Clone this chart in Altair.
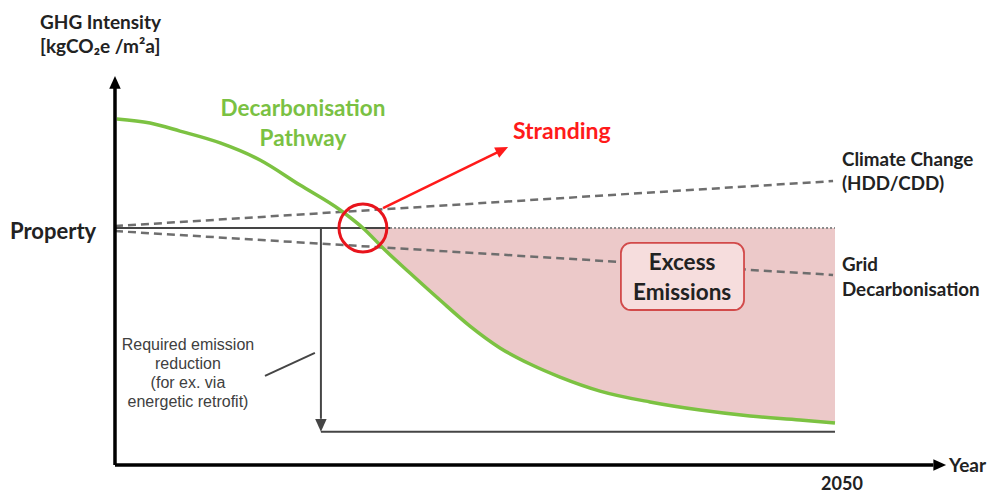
import altair as alt
import pandas as pd

# ---- scale frame (year on x, GHG intensity index on y) ----
X_DOMAIN = [2015.542, 2056.417]
Y_DOMAIN = [-11.814, 192.827]

# ---- decarbonisation pathway ----
curve_year = [2020.08, 2021.46, 2022.71, 2024.38, 2026.04, 2027.71, 2029.38, 2030.33,
              2031.25, 2032.29, 2033.54, 2034.79, 2036.04, 2037.29, 2038.54, 2040.21,
              2042.29, 2044.38, 2046.46, 2048.54, 2050.0]
curve_val = [146.0, 144.3, 140.9, 135.9, 128.7, 118.1, 107.6, 100.0,
             90.7, 81.0, 69.6, 58.6, 49.4, 42.6, 37.1, 31.2,
             26.6, 23.2, 20.7, 19.0, 17.7]

property_level = 100.0
target_level = 14.0
retrofit_year = 2028.58
stranding_year = 2030.33
end_year = 2050.0

climate_year = [2020.0, 2049.92]
climate_val = [100.8, 119.8]
grid_year = [2020.0, 2049.92]
grid_val = [98.7, 80.2]

xs = alt.Scale(domain=X_DOMAIN, nice=False, zero=False)
ys = alt.Scale(domain=Y_DOMAIN, nice=False, zero=False)


def X(f="x"):
    return alt.X(f + ":Q", scale=xs, axis=None)


def Y(f="y"):
    return alt.Y(f + ":Q", scale=ys, axis=None)


curve_df = pd.DataFrame({"x": curve_year, "y": curve_val})
area_df = curve_df[curve_df["x"] >= stranding_year].copy()
area_df["base"] = property_level

area = alt.Chart(area_df).mark_area(color="#ecc9c9", interpolate="monotone").encode(
    x=X(), y=Y(), y2=alt.Y2("base:Q"))

curve = alt.Chart(curve_df).mark_line(color="#7cc242", strokeWidth=3.5,
                                      interpolate="monotone").encode(x=X(), y=Y())

# segments
def seg(rows):
    return pd.DataFrame(rows, columns=["x", "y", "x2", "y2"])

dotted = alt.Chart(seg([[2031.46, property_level, end_year, property_level]])).mark_rule(
    color="#8a8a8a", strokeWidth=2, strokeDash=[2, 2]).encode(
    x=X(), y=Y(), x2="x2:Q", y2="y2:Q")

dashed = alt.Chart(seg([[climate_year[0], climate_val[0], climate_year[1], climate_val[1]],
                        [grid_year[0], grid_val[0], grid_year[1], grid_val[1]]])).mark_rule(
    color="#6e6e6e", strokeWidth=2.5, strokeDash=[8, 5]).encode(
    x=X(), y=Y(), x2="x2:Q", y2="y2:Q")

dark = alt.Chart(seg([[2020.0, property_level, 2031.46, property_level],
                      [retrofit_year, property_level, retrofit_year, target_level + 5.5],
                      [retrofit_year, target_level, end_year, target_level],
                      [2026.25, 37.6, 2028.33, 47.3]])).mark_rule(
    color="#454545", strokeWidth=2).encode(x=X(), y=Y(), x2="x2:Q", y2="y2:Q")

axes = alt.Chart(seg([[2020.0, 0, 2020.0, 159.5],
                      [2020.0, 0, 2054.1, 0]])).mark_rule(
    color="#000000", strokeWidth=3.5).encode(x=X(), y=Y(), x2="x2:Q", y2="y2:Q")

red_arrow = alt.Chart(seg([[2031.17, 108.4, 2035.93, 131.9]])).mark_rule(
    color="#ff1a1a", strokeWidth=2.5).encode(x=X(), y=Y(), x2="x2:Q", y2="y2:Q")

ARROW = "M0,0L-0.45,1L0.45,1Z"
heads_df = pd.DataFrame({
    "x": [2020.0, 2054.63, retrofit_year, 2036.38],
    "y": [164.1, 0.0, target_level, 134.2],
    "angle": [0, 90, 180, 64],
    "c": ["#000000", "#000000", "#454545", "#ff1a1a"],
})
heads = alt.Chart(heads_df).mark_point(shape=ARROW, filled=True, size=650, opacity=1).encode(
    x=X(), y=Y(), angle=alt.Angle("angle:Q", scale=None),
    color=alt.Color("c:N", scale=None))

circle = alt.Chart(pd.DataFrame({"x": [stranding_year], "y": [property_level]})).mark_point(
    shape="circle", filled=False, size=2290, color="#e8141c", strokeWidth=3, opacity=1).encode(
    x=X(), y=Y())

box = alt.Chart(seg([[2041.08, 93.7, 2046.21, 65.4]])).mark_rect(
    fill="#f6dddd", stroke="#d24a4a", strokeWidth=1.8, cornerRadius=10).encode(
    x=X(), y=Y(), x2="x2:Q", y2="y2:Q")


def texts(rows, **kw):
    df = pd.DataFrame(rows, columns=["x", "y", "t"])
    return alt.Chart(df).mark_text(baseline="middle", **kw).encode(
        x=X(), y=Y(), text="t:N")

BOLD = dict(font="Lato", fontWeight="bold")

t_title = texts([[2016.875, 186.5, "GHG Intensity"],
                 [2016.875, 176.4, "[kgCO\u2082e /m\u00b2a]"]],
                align="left", fontSize=19, color="#222222", **BOLD)
t_prop = texts([[2015.625, 98.3, "Property"]], align="left", fontSize=22,
               color="#222222", **BOLD)
t_decarb = texts([[2027.83, 150.2, "Decarbonisation"], [2027.83, 137.6, "Pathway"]],
                 align="center", fontSize=22.5, color="#7ac143", **BOLD)
t_strand = texts([[2036.58, 140.5, "Stranding"]], align="left", fontSize=23,
                 color="#ff1a1a", **BOLD)
t_right = texts([[2050.29, 128.7, "Climate Change"], [2050.29, 118.6, "(HDD/CDD)"],
                 [2050.29, 84.4, "Grid"], [2050.29, 73.8, "Decarbonisation"]],
                align="left", fontSize=18.8, color="#222222", **BOLD)
t_box = texts([[2043.63, 85.2, "Excess"], [2043.63, 72.6, "Emissions"]],
              align="center", fontSize=22.5, color="#222222", **BOLD)
t_year = texts([[2054.75, -0.4, "Year"]], align="left", fontSize=19,
               color="#222222", **BOLD)
t_2050 = texts([[2050.29, -8.6, "2050"]], align="center", fontSize=18,
               color="#222222", **BOLD)
t_req = texts([[2023.04, 50.6, "Required emission"], [2023.04, 42.6, "reduction"],
               [2023.04, 34.6, "(for ex. via"], [2023.04, 26.6, "energetic retrofit)"]],
              align="center", fontSize=16, color="#404040", font="Liberation Sans")

chart = alt.layer(
    area, dotted, dashed, box, t_box, dark, curve, circle, red_arrow, axes, heads,
    t_title, t_prop, t_decarb, t_strand, t_right, t_year, t_2050, t_req
).properties(
    width=981, height=485, padding=0,
    autosize=alt.AutoSizeParams(type="none"),
).configure_view(stroke=None)

chart.save("out.html", embed_options={"renderer": "svg", "actions": False})
